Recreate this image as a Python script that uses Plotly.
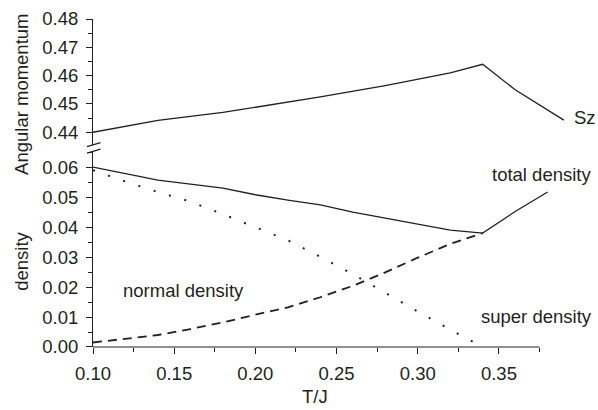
import plotly.graph_objects as go

# ---- data ----
T_sz = [0.10, 0.14, 0.18, 0.20, 0.24, 0.28, 0.32, 0.34, 0.36, 0.39]
Sz = [0.4400, 0.4442, 0.4470, 0.4488, 0.4525, 0.4565, 0.4610, 0.4640, 0.4550, 0.4443]

T_total = [0.10, 0.14, 0.18, 0.20, 0.22, 0.24, 0.26, 0.28, 0.30, 0.32, 0.34, 0.36, 0.38]
total_density = [0.0600, 0.0557, 0.0530, 0.0508, 0.0490, 0.0474, 0.0450, 0.0429,
                 0.0410, 0.0390, 0.0380, 0.0452, 0.0517]

T_ns = [0.10, 0.12, 0.14, 0.16, 0.18, 0.20, 0.22, 0.24, 0.26, 0.28, 0.30, 0.32, 0.34]
normal_density = [0.0590, 0.0552, 0.0517, 0.0485, 0.0443, 0.0400, 0.0356, 0.0301,
                  0.0243, 0.0181, 0.0118, 0.0058, 0.0000]
super_density = [0.0015, 0.0027, 0.0040, 0.0060, 0.0082, 0.0108, 0.0132, 0.0166,
                 0.0204, 0.0249, 0.0298, 0.0344, 0.0380]

x_title = "T/J"
y_top_title = "Angular momentum"
y_bot_title = "density"

# ---- style ----
INK = "#231f20"
FONT = "Liberation Sans, Arial, sans-serif"
FS = 18.5

W, H = 598, 410
L, T = 93, 19
R = W - 572.4
B = H - 347.3
ph = H - T - B


def pix_y(py):
    """page pixel y -> paper y"""
    return (H - B - py) / ph


top_dom0 = pix_y(145)
bot_dom1 = pix_y(152)

fig = go.Figure()
fig.add_trace(go.Scatter(x=T_sz, y=Sz, mode="lines", yaxis="y2",
                         line=dict(color=INK, width=1.3), showlegend=False))
fig.add_trace(go.Scatter(x=T_total, y=total_density, mode="lines",
                         line=dict(color=INK, width=1.3), showlegend=False))
fig.add_trace(go.Scatter(x=T_ns, y=normal_density, mode="lines",
                         line=dict(color=INK, width=2, dash="2px,14px"), showlegend=False))
fig.add_trace(go.Scatter(x=T_ns, y=super_density, mode="lines",
                         line=dict(color=INK, width=1.8, dash="9px,6px"), showlegend=False))

axis_common = dict(showgrid=False, zeroline=False, ticks="outside", ticklen=6,
                   tickcolor=INK, tickwidth=1, linecolor=INK, linewidth=1,
                   tickfont=dict(family=FONT, size=FS, color=INK),
                   ticklabelstandoff=4, automargin=False)

fig.update_layout(
    width=W, height=H, autosize=False,
    margin=dict(l=L, r=R, t=T, b=B, pad=0, autoexpand=False),
    paper_bgcolor="white", plot_bgcolor="white",
    font=dict(family=FONT, size=FS, color=INK),
    xaxis=dict(range=[0.1, 0.395], tick0=0.1, dtick=0.05, tickformat=".2f",
               showline=False, anchor="y",
               minor=dict(dtick=0.025, tick0=0.1, ticks="outside", ticklen=4, tickcolor=INK),
               **axis_common),
    yaxis=dict(domain=[0, bot_dom1], range=[0, 0.0651], tick0=0, dtick=0.01,
               tickformat=".2f", showline=True, anchor="x",
               minor=dict(dtick=0.005, ticks="outside", ticklen=4, tickcolor=INK),
               **axis_common),
    yaxis2=dict(domain=[top_dom0, 1], range=[0.43555, 0.48], tick0=0.44, dtick=0.01,
                tickformat=".2f", showline=True, anchor="x",
                minor=dict(dtick=0.005, ticks="outside", ticklen=4, tickcolor=INK),
                **axis_common),
)

# x axis line (stops at last minor tick)
fig.add_shape(type="line", xref="x", yref="paper", x0=0.1, x1=0.375, y0=0, y1=0,
              line=dict(color=INK, width=1))
# axis break marks
for anchor, (y0, y1) in [(top_dom0, (-1.7, 2.3)), (bot_dom1, (-1.3, 2.7))]:
    fig.add_shape(type="line", xref="paper", yref="paper",
                  xsizemode="pixel", ysizemode="pixel", xanchor=0, yanchor=anchor,
                  x0=-6, x1=7.5, y0=y0, y1=y1, line=dict(color=INK, width=1.2))


def label(text, px, py, angle=0):
    fig.add_annotation(text=text, xref="paper", yref="paper", x=0, xshift=px - L,
                       y=pix_y(py), xanchor="center", yanchor="middle", textangle=angle,
                       showarrow=False, font=dict(family=FONT, size=FS, color=INK))


label("Sz", 585, 118)
label("total density", 541, 175)
label("normal density", 183, 291)
label("super density", 536, 317)
label(y_top_title, 22, 95, -90)
label(y_bot_title, 22, 262, -90)
label(x_title, 315, 397)

fig.write_html(
    "out.html",
    config={"displayModeBar": False},
    post_script="document.body.style.margin='0';document.body.style.overflow='hidden';",
)
